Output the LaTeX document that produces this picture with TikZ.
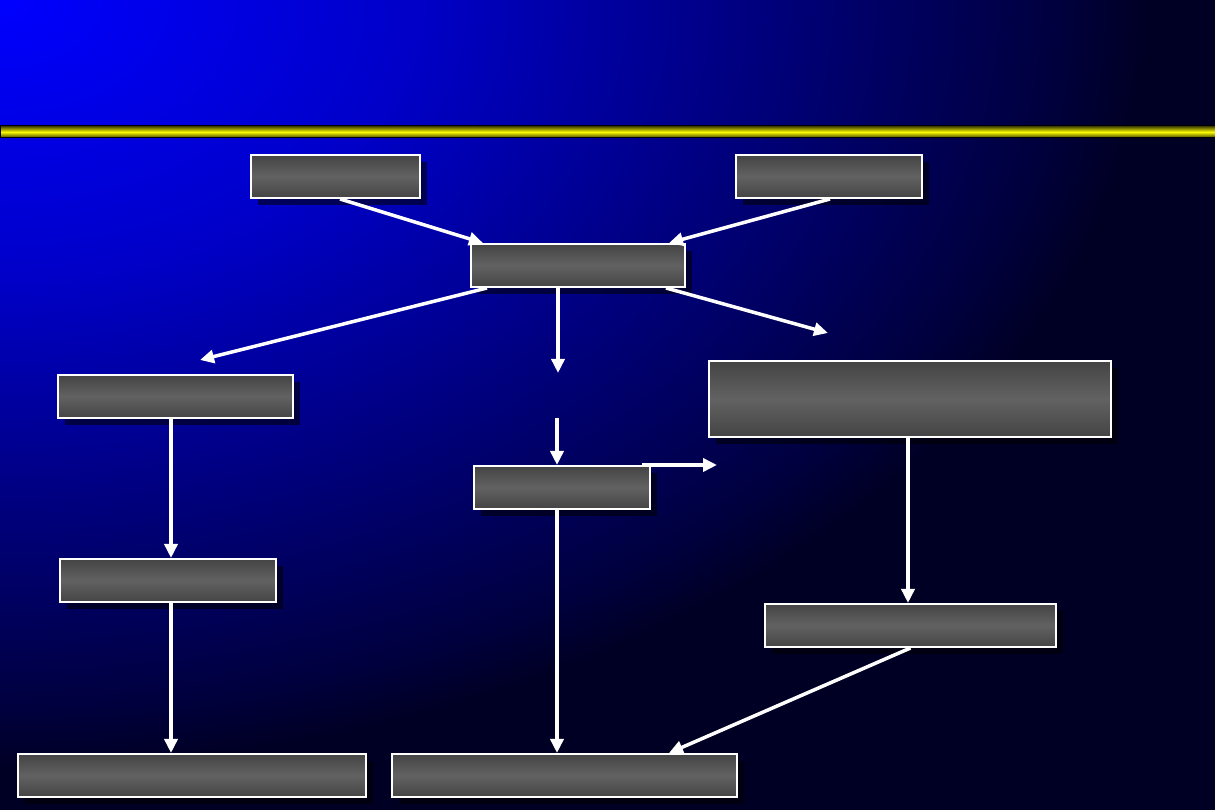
\documentclass[tikz,border=0pt]{standalone}
\usepackage{tikz}
\usetikzlibrary{arrows.meta, shadows}

\definecolor{bgblue}{RGB}{0,0,255}
\definecolor{bgmid1}{RGB}{0,0,200}
\definecolor{bgmid2}{RGB}{0,0,130}
\definecolor{bgmid3}{RGB}{0,0,62}
\definecolor{bgfloor}{RGB}{0,0,36}
\definecolor{barlight}{RGB}{250,250,0}
\definecolor{bardark}{RGB}{60,60,0}
\definecolor{boxedge}{RGB}{68,68,68}
\definecolor{boxmid}{RGB}{98,98,98}

\pgfdeclareradialshading{bgglow}{\pgfpoint{0bp}{0bp}}{%
    color(0bp)=(bgblue); color(9bp)=(bgmid1); color(16bp)=(bgmid2);
    color(23bp)=(bgmid3); color(25bp)=(bgfloor); color(50bp)=(bgfloor)}

\begin{document}
\begin{tikzpicture}
    [
        x=1pt, y=1pt,
        box/.style={draw=white, line width=2pt, rectangle, minimum height=43pt,
            top color=boxedge, bottom color=boxedge, middle color=boxmid,
            drop shadow={shadow xshift=7pt, shadow yshift=-7pt, fill=black, opacity=0.55}},
        flow/.style={draw=white, line width=3.5pt, -{Triangle[width=13pt, length=14pt]}, fill=white}
    ]
        % =========================================================================
        % BACKGROUND
        % =========================================================================
        \useasboundingbox (0,0) rectangle (1215,810);
        \begin{scope}
            \clip (0,0) rectangle (1215,810);
            \fill [bgfloor] (0,0) rectangle (1215,810);
            \shade [shading=bgglow] (0,810) ellipse [x radius=1150, y radius=770];
        \end{scope}
        \shade [draw=black, line width=1pt, top color=bardark, bottom color=bardark, middle color=barlight]
            (0,672) rectangle (1215,684);

        % =========================================================================
        % NODES
        % =========================================================================
        % --- Row 1 ---
        \node [box, minimum width=169pt] (src1) at (335.5,633.5) {};
        \node [box, minimum width=186pt] (src2) at (829,633.5) {};
        % --- Row 2 ---
        \node [box, minimum width=214pt] (hub) at (578,544.5) {};
        % --- Row 3 ---
        \node [box, minimum width=235pt] (left1) at (175.5,413.5) {};
        \node [box, minimum width=402pt, minimum height=76pt] (right1) at (910,411) {};
        \node [box, minimum width=176pt] (mid1) at (562,322.5) {};
        % --- Row 4 ---
        \node [box, minimum width=216pt] (left2) at (168,229.5) {};
        \node [box, minimum width=291pt] (right2) at (910.5,184.5) {};
        % --- Row 5 ---
        \node [box, minimum width=348pt] (out1) at (192,34.5) {};
        \node [box, minimum width=345pt] (out2) at (564.5,34.5) {};
        % --- Free ends ---
        \coordinate (gapL) at (200,450);
        \coordinate (gapM) at (558,437);
        \coordinate (gapR) at (828,477);
        \coordinate (gapM2) at (557,392);
        \coordinate (gapF) at (717,345);

        % =========================================================================
        % PATHS
        % =========================================================================
        % --- INTO HUB ---
        \draw [flow] ([xshift=4.5pt]src1.south) -- ([xshift=13pt]hub.north west);
        \draw [flow] ([xshift=1pt]src2.south) -- ([xshift=-17pt]hub.north east);
        % --- OUT OF HUB ---
        \draw [flow] ([xshift=17pt]hub.south west) -- (gapL);
        \draw [flow] ([xshift=-20pt]hub.south) -- (gapM);
        \draw [flow] ([xshift=-20pt]hub.south east) -- (gapR);
        % --- MIDDLE ---
        \draw [flow] (gapM2) -- ([xshift=-5pt]mid1.north);
        \draw [flow] ([xshift=-9pt]mid1.north east) -- (gapF);
        % --- VERTICAL ---
        \draw [flow] ([xshift=-4.5pt]left1.south) -- ([xshift=3pt]left2.north);
        \draw [flow] ([xshift=-2pt]right1.south) -- ([xshift=-2.5pt]right2.north);
        \draw [flow] ([xshift=3pt]left2.south) -- ([xshift=-21pt]out1.north);
        \draw [flow] ([xshift=-5pt]mid1.south) -- ([xshift=-7.5pt]out2.north);
        % --- ANGLED ---
        \draw [flow] (right2.south) -- ([xshift=-69pt]out2.north east);

    \end{tikzpicture}
\end{document}
